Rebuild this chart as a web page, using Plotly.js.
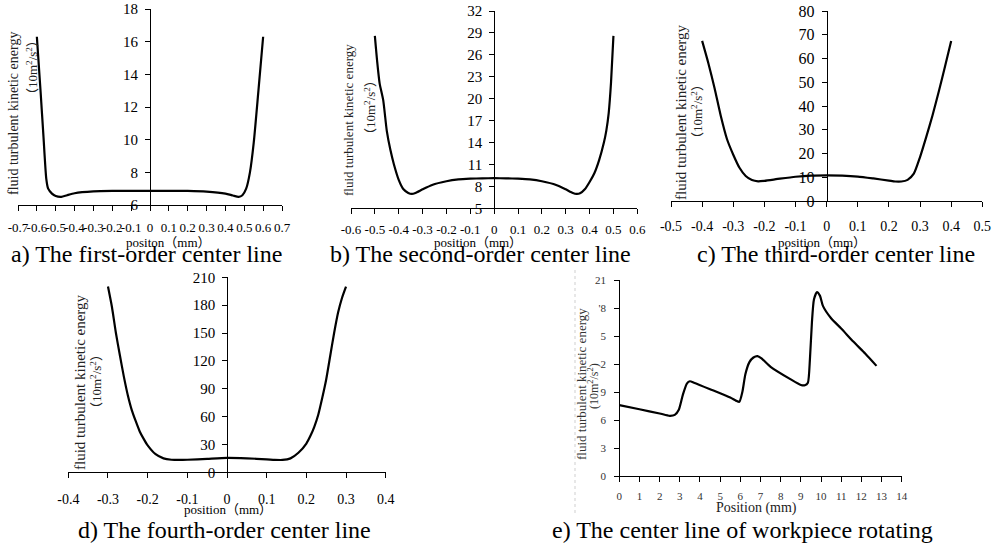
<!DOCTYPE html>
<html><head><meta charset="utf-8">
<script src="https://cdn.plot.ly/plotly-3.0.1.min.js"></script>
<style>html,body{margin:0;padding:0;background:#fff;} #chart{width:1001px;height:547px;}</style>
</head><body><div id="chart"></div>
<script>
// ---------- data ----------
const aX = [-0.6,-0.58,-0.565,-0.55,-0.54,-0.52,-0.5,-0.47,-0.44,-0.4,-0.3,-0.2,-0.1,0,0.1,0.2,0.3,0.4,0.44,0.47,0.49,0.51,0.53,0.55,0.575,0.6];
const aY = [16.3,12.9,10.2,7.6,7.0,6.7,6.55,6.5,6.6,6.72,6.83,6.86,6.87,6.87,6.87,6.86,6.82,6.7,6.58,6.5,6.6,7.0,8.0,9.8,13.0,16.3];

const bX = [-0.5,-0.49,-0.48,-0.465,-0.45,-0.435,-0.42,-0.40,-0.38,-0.36,-0.345,-0.33,-0.30,-0.26,-0.2,-0.15,-0.1,-0.05,0,0.05,0.1,0.15,0.2,0.26,0.30,0.33,0.345,0.36,0.38,0.40,0.42,0.44,0.46,0.47,0.48,0.49,0.5];
const bY = [28.6,25.0,22.1,19.8,15.6,13.0,11.0,8.9,7.6,7.1,6.97,7.1,7.6,8.2,8.7,8.95,9.05,9.1,9.12,9.1,9.05,8.95,8.7,8.2,7.6,7.1,6.97,7.05,7.6,8.6,9.8,11.6,14.0,15.6,18.0,22.3,28.6];

const cX = [-0.4,-0.38,-0.36,-0.34,-0.32,-0.3,-0.28,-0.26,-0.24,-0.22,-0.2,-0.15,-0.1,-0.05,0,0.05,0.1,0.15,0.2,0.22,0.24,0.26,0.28,0.3,0.32,0.34,0.36,0.38,0.4];
const cY = [67.4,58.0,47.5,35.8,26.0,19.5,14.0,10.5,8.8,8.3,8.5,9.4,10.2,10.7,10.8,10.7,10.3,9.5,8.6,8.2,8.2,8.9,11.5,18.5,27.0,36.0,46.0,56.5,67.4];

const dX = [-0.3,-0.29,-0.28,-0.27,-0.26,-0.25,-0.24,-0.23,-0.22,-0.21,-0.2,-0.18,-0.16,-0.14,-0.12,-0.1,-0.05,0,0.05,0.1,0.12,0.14,0.16,0.18,0.2,0.21,0.22,0.23,0.24,0.25,0.26,0.27,0.28,0.29,0.3];
const dY = [200,178,150,126,103,83,67,55,44,36,29,19.5,15,13.5,13.3,13.5,14.5,15.5,15,14,13.4,13.3,15,21,31,39,49,62,80,100,125,150,172,188,200];

const eX = [0,1,2,2.5,2.75,2.95,3.15,3.35,3.5,3.7,4.5,5.5,5.8,5.95,6.1,6.25,6.45,6.65,6.85,7.05,7.5,8.5,9.0,9.2,9.35,9.45,9.55,9.65,9.8,9.95,10.1,10.5,11,11.6,12.2,12.75];
const eY = [7.6,7.15,6.7,6.45,6.55,7.1,8.7,9.9,10.15,10.0,9.3,8.4,8.05,7.95,9.0,10.9,12.2,12.7,12.85,12.6,11.7,10.35,9.75,9.72,10.0,12.5,16.5,18.9,19.7,19.3,18.2,16.9,15.8,14.4,13.1,11.8];

// tick values / labels
const aXTicks = [-0.7,-0.6,-0.5,-0.4,-0.3,-0.2,-0.1,0,0.1,0.2,0.3,0.4,0.5,0.6,0.7];
const aXText  = ["-0.7","-0.6","-0.5","-0.4","-0.3","-0.2","-0.1","0","0.1","0.2","0.3","0.4","0.5","0.6","0.7"];
const aYTicks = [6,8,10,12,14,16,18];
const bXTicks = [-0.6,-0.5,-0.4,-0.3,-0.2,-0.1,0,0.1,0.2,0.3,0.4,0.5,0.6];
const bXText  = ["-0.6","-0.5","-0.4","-0.3","-0.2","-0.1","0","0.1","0.2","0.3","0.4","0.5","0.6"];
const bYTicks = [5,8,11,14,17,20,23,26,29,32];
const cXTicks = [-0.5,-0.4,-0.3,-0.2,-0.1,0,0.1,0.2,0.3,0.4,0.5];
const cXText  = ["-0.5","-0.4","-0.3","-0.2","-0.1","0","0.1","0.2","0.3","0.4","0.5"];
const cYTicks = [0,10,20,30,40,50,60,70,80];
const dXTicks = [-0.4,-0.3,-0.2,-0.1,0,0.1,0.2,0.3,0.4];
const dXText  = ["-0.4","-0.3","-0.2","-0.1","0","0.1","0.2","0.3","0.4"];
const dYTicks = [0,30,60,90,120,150,180,210];
const eXTicks = [0,1,2,3,4,5,6,7,8,9,10,11,12,13,14];
const eYTicks = [0,3,6,9,12,15,18,21];
const eYText  = ["0","3","6","9","2","5","'8","21"];

const captions = ["a) The first-order center line","b) The second-order center line","c) The third-order center line","d) The fourth-order center line","e) The center line of workpiece rotating"];
const xTitles = ["positon（mm）","position（mm）","position（mm）","position（mm）","Position (mm)"];
const yTitle1 = "fluid turbulent kinetic energy";
const yTitle2 = "（10m<sup>2</sup>/s<sup>2</sup>）";
const yTitle2e = "(10m<sup>2</sup>/s<sup>2</sup>)";

// ---------- layout helpers ----------
const W = 1001, H = 547;
const fx = v => v / W;
const fy = v => 1 - v / H;
const SERIF = 'Liberation Serif, Noto Sans CJK SC, serif';

function trace(x, y, n) {
  return {x: x, y: y, xaxis: 'x' + (n === 1 ? '' : n), yaxis: 'y' + (n === 1 ? '' : n),
    type: 'scatter', mode: 'lines', line: {color: '#000', width: 2.2, shape: 'spline', smoothing: 0.6},
    hoverinfo: 'skip', showlegend: false};
}
function xAx(x0, x1, range, vals, text, yname, fs, standoff, color) {
  return {domain: [fx(x0), fx(x1)], range: range, anchor: yname, showline: true, linecolor: '#000', linewidth: 1,
    ticks: 'outside', ticklen: 5, tickcolor: '#000', tickwidth: 1, tickmode: 'array', tickvals: vals, ticktext: text,
    tickangle: 0, showgrid: false, zeroline: false, ticklabelstandoff: standoff,
    tickfont: {family: SERIF, size: fs, color: color || '#000'}, fixedrange: true};
}
function yAx(y0, y1, range, vals, text, posPx, fs, standoff, color) {
  const o = {domain: [fy(y1), fy(y0)], range: range, showline: true, linecolor: '#000', linewidth: 1,
    ticks: 'outside', ticklen: 5, tickcolor: '#000', tickwidth: 1, tickmode: 'array', tickvals: vals,
    showgrid: false, zeroline: false, ticklabelstandoff: standoff,
    tickfont: {family: SERIF, size: fs, color: color || '#000'}, fixedrange: true};
  if (text) o.ticktext = text;
  o.anchor = 'free'; o.position = fx(posPx);
  return o;
}
function ann(text, xPx, yPx, size, angle, color) {
  return {text: text, xref: 'paper', yref: 'paper', x: fx(xPx), y: fy(yPx), xanchor: 'center', yanchor: 'middle',
    showarrow: false, textangle: angle || 0, font: {family: SERIF, size: size, color: color || '#000'}};
}

const data = [trace(aX, aY, 1), trace(bX, bY, 2), trace(cX, cY, 3), trace(dX, dY, 4), trace(eX, eY, 5)];

const layout = {
  width: W, height: H, margin: {l: 0, r: 0, t: 0, b: 0}, paper_bgcolor: '#fff', plot_bgcolor: 'rgba(0,0,0,0)',
  showlegend: false,
  font: {family: SERIF, size: 13},
  xaxis:  xAx(18, 282, [-0.7, 0.7], aXTicks, aXText, 'y', 13, 5),
  yaxis:  yAx(9, 205, [6, 18], aYTicks, null, 150, 15, 4),
  xaxis2: xAx(351, 637.3, [-0.6, 0.6], bXTicks, bXText, 'y2', 13, 4),
  yaxis2: yAx(11, 208.3, [5, 32], bYTicks, null, 494.2, 15, 4),
  xaxis3: xAx(671, 982.3, [-0.5, 0.5], cXTicks, cXText, 'y3', 14, 7),
  yaxis3: yAx(11, 201, [0, 80], cYTicks, null, 826.7, 16, 4),
  xaxis4: xAx(68.3, 385.7, [-0.4, 0.4], dXTicks, dXText, 'y4', 14, 9),
  yaxis4: yAx(277.3, 472.3, [0, 210], dYTicks, null, 227.3, 15, 4),
  xaxis5: xAx(619.3, 901.7, [0, 14], eXTicks, eXTicks.map(String), 'y5', 11, 5, '#333'),
  yaxis5: yAx(280, 476, [0, 21], eYTicks, eYText, 619.3, 11, 6, '#333'),
  annotations: [
    ann(captions[0], 146, 254, 24), ann(captions[1], 480, 254, 24), ann(captions[2], 836, 254, 24),
    ann(captions[3], 224, 530, 24), ann(captions[4], 742, 530, 24),
    ann(xTitles[0], 168, 242, 13), ann(xTitles[1], 478, 242, 13), ann(xTitles[2], 822, 242, 13),
    ann(xTitles[3], 228, 509, 13), ann(xTitles[4], 756, 508, 14, 0, '#222'),
    ann(yTitle1, 13, 114, 14, -90, '#222'), ann(yTitle2, 32, 68, 13, -90, '#222'),
    ann(yTitle1, 349, 120, 13, -90, '#222'), ann(yTitle2, 370, 108, 13, -90, '#222'),
    ann(yTitle1, 681, 112, 15, -90, '#222'), ann(yTitle2, 697, 112, 13, -90, '#222'),
    ann(yTitle1, 80, 382, 15, -90, '#222'), ann(yTitle2, 96, 382, 13, -90, '#222'),
    ann(yTitle1, 581, 384, 13, -90, '#333'), ann(yTitle2e, 593, 386, 12, -90, '#333')
  ],
  shapes: [
    {type: 'line', xref: 'paper', yref: 'paper', x0: fx(575), x1: fx(575), y0: fy(270), y1: fy(515),
     line: {color: '#cfcfcf', width: 1, dash: 'dot'}}
  ]
};

Plotly.newPlot('chart', data, layout, {displayModeBar: false, staticPlot: true});
</script>
</body></html>
